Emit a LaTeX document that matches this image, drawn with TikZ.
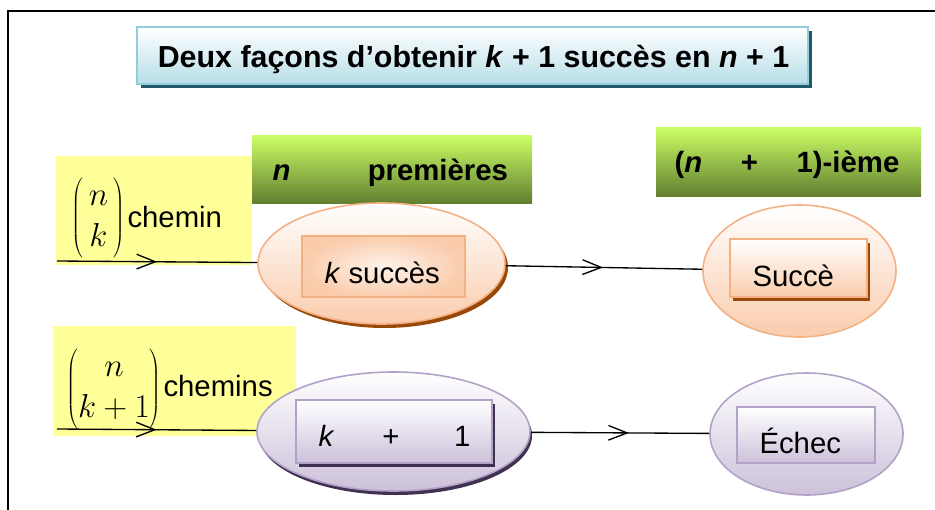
\documentclass[tikz,border=0pt]{standalone}
\usepackage{fontspec}
\setmainfont{Liberation Sans}
\usetikzlibrary{shapes.geometric,arrows.meta,decorations.markings}

\definecolor{peach}{RGB}{250,204,172}
\definecolor{peachline}{RGB}{244,177,131}
\definecolor{orshade}{RGB}{152,72,7}
\definecolor{lav}{RGB}{204,193,218}
\definecolor{lavline}{RGB}{179,162,199}
\definecolor{purshade}{RGB}{64,49,81}
\definecolor{tealfill}{RGB}{183,222,232}
\definecolor{tealline}{RGB}{147,205,221}
\definecolor{tealshade}{RGB}{33,89,104}
\definecolor{lightyellow}{RGB}{255,255,153}
\definecolor{greentop}{RGB}{204,255,102}
\definecolor{greenbot}{RGB}{98,127,48}

\tikzset{every picture/.style={line width=0.75pt}}
\tikzset{
  txt/.style={inner sep=0pt, font=\fontsize{22}{26}\selectfont},
  box/.style={rectangle, inner sep=0pt, draw=none},
  oval/.style={ellipse, inner sep=0pt, line width=1.2pt},
  midarrow/.style={postaction={decorate, decoration={markings,
      mark=at position #1 with {\arrow{Straight Barb[length=14pt,width=11pt,line width=1pt]}}}}},
}

\begin{document}
\begin{tikzpicture}[x=0.75pt,y=0.75pt,yscale=-1,xscale=1]
\useasboundingbox (0,0) rectangle (935,510);

%Shape: Frame
\draw [line width=1.5pt] (935,11) -- (8,11) -- (8,510) ;

%Shape: Rectangle [title]
\node [box, fill=tealshade, minimum width=503.25pt, minimum height=42.75pt] (titles) at (476,59.5) {};
\node [box, draw=tealline, line width=1.5pt, top color=white, bottom color=tealfill, minimum width=503.25pt, minimum height=42.75pt] (titlebox) at (472.5,55.5) {};

%Shape: Rectangle [yellow]
\node [box, fill=lightyellow, minimum width=147pt, minimum height=81.75pt] (ybox1) at (154,210.5) {};
\node [box, fill=lightyellow, minimum width=182.25pt, minimum height=82.5pt] (ybox2) at (174.5,381) {};

%Shape: Rectangle [green]
\node [box, top color=greentop, bottom color=greenbot, minimum width=210pt, minimum height=51pt] (gbox1) at (392,169) {};
\node [box, top color=greentop, bottom color=greenbot, minimum width=198.75pt, minimum height=51.75pt] (gbox2) at (788.5,161.5) {};

%Shape: Ellipse
\node [oval, fill=orshade, draw=none, minimum width=185.25pt, minimum height=90.75pt] (ell1s) at (384.5,267.5) {};
\node [oval, draw=peachline, top color=white, bottom color=peach, minimum width=185.25pt, minimum height=90.75pt] (ell1) at (381.5,263.5) {};
\node [oval, draw=peachline, top color=white, bottom color=peach, minimum width=144.75pt, minimum height=99pt] (ell2) at (799.5,271) {};
\node [oval, fill=purshade, draw=none, minimum width=204.75pt, minimum height=89.25pt] (ell3s) at (395.5,435.5) {};
\node [oval, draw=lavline, top color=white, bottom color=lav, minimum width=204.75pt, minimum height=89.25pt] (ell3) at (393.5,431.5) {};
\node [oval, draw=lavline, top color=white, bottom color=lav, minimum width=144.75pt, minimum height=91.5pt] (ell4) at (806.5,434) {};

%Shape: Rectangle [inner]
\node [box, draw=peachline, line width=1.2pt, inner color=peach!25, outer color=peach, minimum width=122.25pt, minimum height=45.75pt] (rect1) at (383.5,266.5) {};
\node [box, fill=orshade, minimum width=102.75pt, minimum height=43.5pt] (rect2s) at (801.5,272) {};
\node [box, draw=peachline, line width=1.2pt, top color=white, bottom color=peach, minimum width=102.75pt, minimum height=43.5pt] (rect2) at (798.5,268) {};
\node [box, fill=purshade, minimum width=147pt, minimum height=47.25pt] (rect3s) at (397,435.5) {};
\node [box, draw=lavline, line width=1.2pt, top color=white, bottom color=lav, minimum width=147pt, minimum height=47.25pt] (rect3) at (394,431.5) {};
\node [box, draw=lavline, line width=1.2pt, top color=white, bottom color=lav, minimum width=103.5pt, minimum height=42pt] (rect4) at (806,435) {};

%Straight Lines
\coordinate (in1) at (57,261) ;
\coordinate (in2) at (57,429) ;
\draw [line width=1pt, midarrow=0.5] (in1) -- (ell1) ;
\draw [line width=1pt, midarrow=0.5] (in2) -- (ell3) ;
\draw [line width=1pt, midarrow=0.495] (ell1) -- (ell2) ;
\draw [line width=1pt, midarrow=0.55] (ell3) -- (ell4) ;

% Text Node
\node [txt, font=\fontsize{22.8}{27}\selectfont, anchor=base] (title) at (473.5,68) {\bfseries Deux façons d’obtenir \textit{k} + 1 succès en \textit{n} + 1};
% Text Node
\node [txt, anchor=base west] (g1txt) at (272,180) {\bfseries\textit{n}\hspace{58pt}premières};
% Text Node
\node [txt, anchor=base west] (g2txt) at (674,172) {\bfseries(\textit{n}\hspace{29pt}+\hspace{29pt}1)-ième};
% Text Node
\node [txt, font=\fontsize{24}{24}\selectfont] (binom1) at (98.5,217.5) {\renewcommand{\arraystretch}{1.3}$\left(\begin{array}{@{\,}c@{\,}} n\\ k \end{array}\right)$};
\node [txt, anchor=base west] (chem1) at (127,227) {chemin};
% Text Node
\node [txt, font=\fontsize{24}{24}\selectfont] (binom2) at (114,388.5) {\renewcommand{\arraystretch}{1.3}$\left(\begin{array}{@{}c@{}} n\\ k+1 \end{array}\right)$};
\node [txt, anchor=base west] (chem2) at (163,396) {chemins};
% Text Node
\node [txt, anchor=base west] (r1txt) at (324,283) {\textit{k} succès};
\node [txt, anchor=base west] (r2txt) at (752,286) {Succè};
\node [txt, anchor=base west] (r3txt) at (318,446) {\textit{k}\hspace{36pt}+\hspace{41pt}1};
\node [txt, anchor=base west] (r4txt) at (759,453) {Échec};

\end{tikzpicture}
\end{document}
